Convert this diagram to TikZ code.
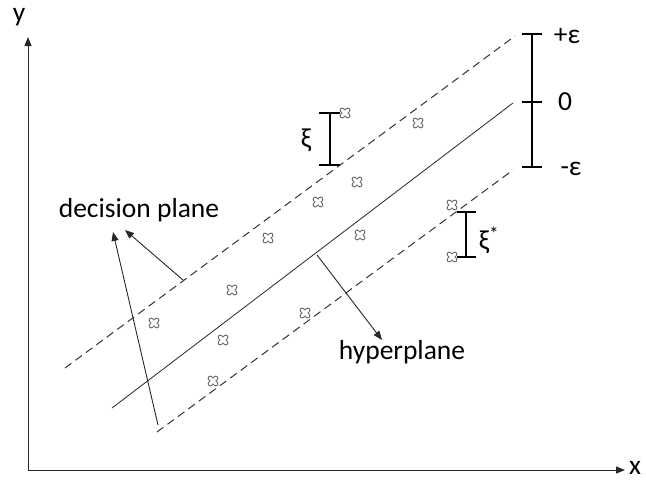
\documentclass[tikz,border=0pt]{standalone}
\usepackage{fontspec}
\setmainfont{Carlito}
\usetikzlibrary{arrows.meta}
\definecolor{Lline}{HTML}{262626}
\definecolor{Dline}{HTML}{333333}
\definecolor{Mline}{HTML}{707070}

\tikzset{
  sample/.pic={
    \draw[Mline,line width=5.2pt,line cap=round] (-2.8,-2.8) -- (2.8,2.8) (-2.8,2.8) -- (2.8,-2.8);
    \draw[white,line width=3pt,line cap=round] (-2.8,-2.8) -- (2.8,2.8) (-2.8,2.8) -- (2.8,-2.8);
  },
  lbl/.style={inner sep=0pt,font=\fontsize{27.5}{32}\selectfont},
  bar/.style={line width=1.6pt,black},
  ptr/.style={Lline,line width=0.9pt,-{Triangle[length=9pt,width=7pt]}},
}

\begin{document}
\begin{tikzpicture}[x=1pt,y=-1pt,line join=round]
\useasboundingbox (0,0) rectangle (646,485);

% ---- axes ----
\coordinate (O) at (28,470);
\coordinate (ytip) at (28,37);
\coordinate (xtip) at (625,470);
\draw[Lline,line width=0.9pt,-{Triangle[length=9pt,width=7pt]}] (O) -- (ytip);
\draw[Lline,line width=0.9pt,-{Triangle[length=9pt,width=7pt]}] (O) -- (xtip);
\node[lbl] (ylab) at (19,17) {y};
\node[lbl] (xlab) at (635,468) {x};

% ---- hyperplane and the two decision planes ----
\coordinate (upA) at (65,368);  \coordinate (upB) at (515,36);
\coordinate (hpA) at (112,408); \coordinate (hpB) at (513,103);
\coordinate (loA) at (157,432); \coordinate (loB) at (513,170);
\draw[Dline,line width=1pt,dash pattern=on 8pt off 5pt] (upA) -- (upB);
\draw[Lline,line width=0.8pt] (hpA) -- (hpB);
\draw[Dline,line width=1pt,dash pattern=on 8pt off 5pt] (loA) -- (loB);

% ---- the epsilon scale ----
\draw[bar] (532,34) -- (532,167);
\foreach \y in {34,102,167}
  \draw[bar] (522,\y) -- (542,\y);
\node[lbl] (peps) at (567,36) {+ε};
\node[lbl] (zero) at (565,102) {0};
\node[lbl] (meps) at (571,169) {-ε};

% ---- slack bars ----
\draw[bar] (330,113) -- (330,165) (319,113) -- (340,113) (319,165) -- (340,165);
\node[lbl] (xi) at (306,140) {ξ};
\draw[bar] (466,212) -- (466,257) (457,212) -- (476,212) (457,257) -- (476,257);
\node[lbl] (xis) at (489,240) {ξ\textsuperscript{*}};

% ---- samples ----
\foreach \x/\y in {345/113, 418/123, 357/182, 318/202, 268/238, 360/235,
                   232/290, 154/323, 305/313, 223/340, 213/381, 452/205, 452/257}
  \pic at (\x,\y) {sample};

% ---- annotations ----
\node[lbl] (dec) at (139,210) {decision plane};
\coordinate (decT1) at (183,280); \coordinate (decH1) at (125,230);
\coordinate (decT2) at (158,425); \coordinate (decH2) at (113,232);
\draw[ptr] (decT1) -- (decH1);
\draw[ptr] (decT2) -- (decH2);
\node[lbl] (hyp) at (402,352) {hyperplane};
\coordinate (hypT) at (317,255); \coordinate (hypH) at (382,340);
\draw[ptr] (hypT) -- (hypH);
\end{tikzpicture}
\end{document}
